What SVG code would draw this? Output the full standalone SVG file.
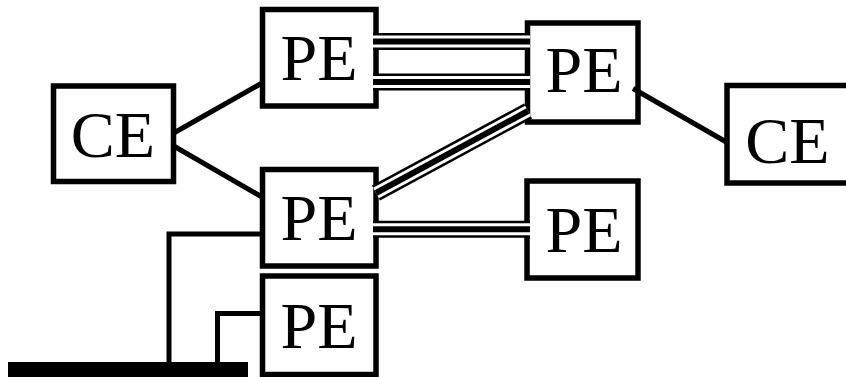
<svg xmlns="http://www.w3.org/2000/svg" width="846" height="377" viewBox="0 0 846 377">
  <style>
    .box { fill: #fff; stroke: #000; stroke-width: 5.5; }
    .lbl { font-family: "Liberation Serif", "Times New Roman", serif; font-size: 66px; fill: #000; text-anchor: middle; }
    .ln { fill: none; stroke: #000; stroke-width: 5; stroke-linecap: butt; stroke-linejoin: miter; }
    .t1 { fill: none; stroke: #000; stroke-width: 17; }
    .t2 { fill: none; stroke: #fff; stroke-width: 12; }
    .t3 { fill: none; stroke: #000; stroke-width: 6; }
  </style>
  <defs>
    <g id="trunk1"><line x1="373" y1="41.5" x2="530" y2="41.5"/></g>
    <g id="trunk2"><line x1="373" y1="82" x2="530" y2="82"/></g>
    <g id="trunk3"><line x1="376" y1="193" x2="528" y2="111"/></g>
    <g id="trunk4"><line x1="373" y1="229.2" x2="530" y2="229.2"/></g>
  </defs>

  <g id="ce-left">
    <rect class="box" x="53.5" y="86" width="120" height="95.5"/>
    <text class="lbl" x="113" y="157">CE</text>
  </g>
  <g id="pe-top-left">
    <rect class="box" x="262.5" y="9.5" width="113.5" height="96.5"/>
    <text class="lbl" x="319" y="80">PE</text>
  </g>
  <g id="pe-mid-left">
    <rect class="box" x="262.5" y="169.5" width="113.5" height="96.5"/>
    <text class="lbl" x="319" y="240">PE</text>
  </g>
  <g id="pe-bottom-left">
    <rect class="box" x="262.5" y="276" width="113.5" height="98.5"/>
    <text class="lbl" x="319" y="348">PE</text>
  </g>
  <g id="pe-top-right">
    <rect class="box" x="527.5" y="23" width="110.5" height="99"/>
    <text class="lbl" x="584" y="92">PE</text>
  </g>
  <g id="pe-bottom-right">
    <rect class="box" x="527" y="181" width="111" height="97"/>
    <text class="lbl" x="584" y="252">PE</text>
  </g>
  <g id="ce-right">
    <rect class="box" x="727" y="85.5" width="130" height="97.5"/>
    <text class="lbl" x="787.5" y="163">CE</text>
  </g>
  <g id="lan-bar">
    <rect x="8" y="362" width="240" height="15" fill="#000"/>
  </g>

  <g id="connectors">
    <line class="ln" x1="172" y1="134" x2="262" y2="83"/>
    <line class="ln" x1="172" y1="145" x2="262" y2="197"/>
    <line class="ln" x1="633" y1="88.5" x2="728" y2="143"/>
    <polyline class="ln" points="169,362 169,234 264,234"/>
    <polyline class="ln" points="217.5,362 217.5,313.5 264,313.5"/>
    <g class="t1"><use href="#trunk1"/><use href="#trunk2"/><use href="#trunk3"/><use href="#trunk4"/></g>
    <g class="t2"><use href="#trunk1"/><use href="#trunk2"/><use href="#trunk3"/><use href="#trunk4"/></g>
    <g class="t3"><use href="#trunk1"/><use href="#trunk2"/><use href="#trunk3"/><use href="#trunk4"/></g>
  </g>
</svg>
